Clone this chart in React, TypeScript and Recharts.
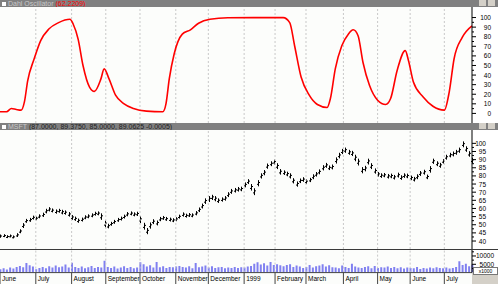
import { BarChart, Bar, LineChart, Line, XAxis, YAxis, ReferenceLine } from "recharts";

// trading-day index of each month start, June 1998 .. July 1999
const monthStarts = [0, 22, 44, 65, 86, 108, 128, 150, 169, 188, 211, 232, 252, 273];
const monthLabels = [
  "June", "July", "August", "September", "October", "November", "December",
  "1999", "February", "March", "April", "May", "June", "July",
];

// Dahl oscillator
const oscDays = [
  0, 4, 7, 10, 13, 15, 17, 21, 25, 30, 36, 43, 45, 48, 51, 55, 58, 62, 64, 67, 71, 76, 82, 90,
  100, 102, 104, 107, 112, 117, 122, 129, 140, 156, 174, 178, 181, 185, 190, 195, 201, 203, 206,
  210, 214, 217, 220, 223, 227, 232, 237, 240, 244, 249, 251, 254, 260, 266, 273, 276, 279, 284, 290,
];
const oscValues = [
  1.7, 1.7, 5.2, 4.1, 3.4, 12, 34, 57, 76, 88, 94.7, 98.2, 93, 77.5, 50, 27.5, 23, 36, 46.5, 36,
  19, 10.3, 5.2, 2.4, 1.7, 10.3, 36, 62, 82.7, 87.2, 94, 98.2, 99.8, 99.9, 99.9, 94.7, 70.6, 37.9,
  19, 9.3, 6.2, 15.5, 46.5, 70.6, 82.7, 87.2, 81, 53.4, 29.3, 13.8, 9.3, 15.5, 44.8, 65.5, 55,
  32.7, 17.2, 7.5, 3.4, 22.3, 57, 79.2, 91.3,
];

// MSFT price bars, one every 2 trading days
const priceLow = [
  42.0, 42.4, 41.8, 42.2, 41.6, 42.5, 44.8, 48.0, 51.2, 51.8, 53.2,
  52.8, 54.0, 54.8, 57.0, 58.2, 57.6, 56.8, 57.4, 56.4, 56.2, 55.0,
  53.0, 52.4, 51.2, 52.0, 53.4, 54.0, 54.6, 55.6, 55.8, 53.0, 48.4,
  47.8, 49.4, 50.6, 51.8, 52.6, 53.8, 55.2, 55.8, 55.2, 55.4, 51.0,
  47.0, 44.2, 47.6, 50.4, 49.6, 52.2, 53.0, 52.4, 52.0, 51.6, 52.2,
  53.8, 55.0, 54.4, 54.8, 54.6, 55.8, 57.8, 60.0, 62.8, 64.0,
  65.2, 64.4, 63.4, 64.2, 64.8, 67.0, 69.0, 69.8, 70.4, 70.6, 73.0,
  75.0, 71.0, 68.2, 73.6, 78.4, 80.4, 84.4, 86.0, 87.0, 84.2, 80.8,
  80.6, 79.8, 78.4, 75.4, 73.4, 75.6, 76.4, 75.0, 76.2, 78.0, 79.6,
  81.0, 83.4, 85.0, 83.6, 84.0, 87.6, 90.8, 93.4, 94.2, 93.0, 92.2,
  89.0, 86.4, 81.6, 82.8, 87.0, 84.2, 81.4, 79.6, 78.8, 79.2, 78.4,
  78.6, 77.8, 79.0, 77.6, 78.8, 78.6, 77.4, 76.6, 78.0, 80.0, 80.8,
  78.0, 82.0, 87.4, 86.0, 85.0, 87.6, 90.0, 91.4, 92.0, 93.0, 94.2,
  97.6, 94.8, 91.8, 87.8,
];
const priceHigh = [
  44.0, 44.2, 43.6, 44.0, 43.4, 44.8, 47.2, 51.0, 53.6, 54.2, 55.6,
  55.0, 56.4, 57.4, 59.8, 60.8, 60.0, 59.4, 59.8, 59.2, 58.8, 57.8,
  56.0, 55.0, 53.8, 54.4, 55.8, 56.4, 57.0, 58.0, 58.2, 57.0, 52.6,
  50.6, 51.8, 53.0, 54.2, 55.0, 56.2, 57.8, 58.2, 57.6, 58.0, 55.2,
  51.2, 48.0, 51.4, 53.4, 52.6, 54.8, 55.4, 54.8, 54.4, 54.0, 54.6,
  56.2, 57.6, 56.8, 57.2, 57.0, 58.4, 60.6, 63.0, 66.2, 67.6,
  68.4, 67.6, 66.2, 66.8, 67.6, 70.0, 72.0, 72.6, 73.2, 73.4, 76.0,
  78.0, 75.0, 72.4, 77.4, 81.6, 83.6, 87.6, 89.0, 90.0, 87.8, 84.2,
  83.4, 82.6, 81.6, 78.6, 76.6, 78.4, 79.2, 78.0, 78.8, 81.0, 82.4,
  84.0, 86.6, 88.0, 86.4, 87.0, 91.4, 94.2, 96.6, 97.4, 96.0, 95.4,
  93.0, 90.6, 85.4, 86.2, 90.6, 87.8, 84.6, 82.4, 81.6, 81.8, 81.2,
  81.4, 80.6, 82.0, 80.4, 81.6, 81.4, 80.2, 79.4, 81.0, 83.0, 83.8,
  80.8, 86.0, 90.6, 89.0, 88.0, 90.4, 93.0, 94.2, 95.0, 96.0, 97.4,
  101.2, 98.2, 95.2, 91.2,
];
// volume in thousands, same 2-day steps
const volume = [
  2.0, 2.6, 1.8, 3.0, 2.4, 3.4, 4.0, 3.2, 5.8, 4.4, 3.6,
  2.0, 2.8, 3.4, 2.6, 3.8, 3.0, 4.2, 3.2, 3.6, 4.8, 3.0,
  6.0, 3.4, 2.8, 3.6, 2.6, 3.2, 4.0, 2.8, 3.4, 3.0, 7.2,
  3.4, 2.8, 3.6, 2.4, 3.0, 3.8, 2.8, 3.4, 2.6, 3.0, 6.2,
  5.0, 3.6, 4.4, 3.0, 6.4, 3.2, 3.8, 2.8, 3.4, 3.2, 3.6,
  4.0, 3.4, 3.0, 3.8, 2.6, 5.8, 3.2, 3.6, 4.2, 3.0,
  3.8, 2.8, 3.2, 3.4, 2.6, 3.0, 2.8, 3.4, 2.8, 3.2, 3.0,
  3.6, 4.0, 5.4, 6.2, 4.8, 5.6, 4.2, 6.4, 4.6, 5.0, 4.4,
  3.8, 4.6, 5.0, 3.4, 4.2, 3.6, 2.8, 3.4, 4.6, 3.0, 3.8,
  4.2, 5.0, 3.6, 4.4, 3.2, 3.0, 2.6, 4.2, 3.4, 2.8, 5.4,
  3.6, 3.0, 2.8, 3.4, 3.8, 2.6, 4.0, 2.8, 3.2, 3.0, 3.6,
  2.8, 3.4, 2.6, 3.2, 2.4, 3.0, 2.8, 2.6, 3.4, 2.2, 2.8,
  2.4, 3.0, 2.6, 3.2, 2.8, 2.6, 3.0, 2.4, 2.8, 3.4, 6.8,
  4.6, 5.4, 3.8, 4.8,
];

const W = 498;
const AXIS_W = 26;
const FONT = "'Liberation Sans', Arial, sans-serif";
const oscData = oscDays.map((d, i) => ({ day: d, osc: oscValues[i] }));
const priceData = priceLow.map((lo, i) => ({ day: i * 2, range: [lo, priceHigh[i]], vol: volume[i] }));

function makeTick(step: number, right: number, fmt: (v: number) => string) {
  return (props: any) => {
    const { x, y, payload } = props;
    const v = payload.value;
    const major = Math.abs(v / step - Math.round(v / step)) < 1e-6;
    return (
      <g>
        <line x1={x} x2={x + (major ? 4 : 2)} y1={y} y2={y} stroke="#000" />
        {major && (
          <text x={x + right} y={y + 2.5} textAnchor="end" fontSize={6.5} fontFamily={FONT} fill="#000">
            {fmt(v)}
          </text>
        )}
      </g>
    );
  };
}

// high-low bar drawn as a thin stroke with small side ticks
function HLBar(props: any) {
  const { x, y, width, height } = props;
  const cx = Math.round(x + width / 2);
  return (
    <g fill="#000">
      <rect x={cx} y={y} width={1} height={Math.max(height, 1)} />
      <rect x={cx - 1} y={y + height * 0.6} width={1} height={1} />
      <rect x={cx + 1} y={y + height * 0.3} width={1} height={1} />
    </g>
  );
}

function MonthTick(props: any) {
  const { x, y, payload, index } = props;
  return (
    <g>
      <line x1={x} x2={x} y1={y} y2={y + 12} stroke="#444" />
      <text x={x + 2} y={y + 8.5} fontSize={6.5} fontFamily={FONT} fill="#000">
        {monthLabels[index] ?? payload.value}
      </text>
    </g>
  );
}

function TitleBar({ top, children }: { top: number; children: any }) {
  return (
    <div style={{ position: "absolute", left: 0, top, width: W, height: 7, background: "#808080", overflow: "hidden", fontFamily: FONT, fontSize: 7, lineHeight: "7px", whiteSpace: "nowrap" }}>
      <span style={{ display: "inline-block", width: 4, height: 4, background: "#fff", margin: "1px 2px 0 2px" }} />
      {children}
      <span style={{ position: "absolute", right: 12, top: 0, width: 7, height: 6, background: "#d4d0c8" }} />
      <span style={{ position: "absolute", right: 3, top: 0, width: 7, height: 6, background: "#d4d0c8" }} />
    </div>
  );
}

const gridLines = monthStarts.slice(1).map((d) => (
  <ReferenceLine key={d} x={d} stroke="#c8c8c8" strokeDasharray="2 2" />
));

export default function App() {
  return (
    <div style={{ position: "absolute", left: 0, top: 0, width: W, height: 284, background: "#fff", overflow: "hidden" }}>
      <div style={{ position: "absolute", left: 0, top: 0, width: W - AXIS_W, height: 284, background: "#fcfdfb" }} />
      <TitleBar top={0}>
        <span style={{ color: "#c8c8c8" }}>Dahl Oscillator </span>
        <span style={{ color: "#ff0000" }}>(62.2209)</span>
      </TitleBar>
      <div style={{ position: "absolute", left: 0, top: 7 }}>
        <LineChart width={W} height={116} data={oscData} margin={{ top: 0, right: 0, bottom: 0, left: 0 }}>
          <XAxis type="number" dataKey="day" domain={[0, 290]} hide />
          <YAxis
            orientation="right"
            width={AXIS_W}
            domain={[-10, 111]}
            allowDataOverflow
            ticks={[0, 5, 10, 15, 20, 25, 30, 35, 40, 45, 50, 55, 60, 65, 70, 75, 80, 85, 90, 95, 100]}
            interval={0}
            tickLine={false}
            tickSize={0}
            tickMargin={0}
            axisLine={{ stroke: "#000" }}
            tick={makeTick(10, 19, (v) => String(v))}
          />
          {gridLines}
          <Line type="monotone" dataKey="osc" stroke="#ff0000" strokeWidth={1.6} dot={false} isAnimationActive={false} />
        </LineChart>
      </div>
      <TitleBar top={123}>
        <span style={{ color: "#c8c8c8" }}>MSFT </span>
        <span style={{ color: "#202020" }}>(87.0000, 89.3750, 85.0000, 89.0625 -0.0005)</span>
      </TitleBar>
      <div style={{ position: "absolute", left: 0, top: 130 }}>
        <BarChart width={W} height={119} data={priceData} margin={{ top: 0, right: 0, bottom: 0, left: 0 }}>
          <XAxis type="number" dataKey="day" domain={[0, 290]} hide />
          <YAxis
            orientation="right"
            width={AXIS_W}
            domain={[35.1, 108.2]}
            allowDataOverflow
            ticks={[40, 42.5, 45, 47.5, 50, 52.5, 55, 57.5, 60, 62.5, 65, 67.5, 70, 72.5, 75, 77.5, 80, 82.5, 85, 87.5, 90, 92.5, 95, 97.5, 100]}
            interval={0}
            tickLine={false}
            tickSize={0}
            tickMargin={0}
            axisLine={{ stroke: "#000" }}
            tick={makeTick(5, 14, (v) => String(v))}
          />
          {gridLines}
          <Bar dataKey="range" fill="#000" barSize={2} shape={HLBar} isAnimationActive={false} />
        </BarChart>
      </div>
      <div style={{ position: "absolute", left: 0, top: 248.5, width: W, height: 1.5, background: "#3a3a3a" }} />
      <div style={{ position: "absolute", left: 0, top: 250 }}>
        <BarChart width={W} height={34} data={priceData} margin={{ top: 0, right: 0, bottom: 0, left: 0 }}>
          <XAxis
            type="number"
            dataKey="day"
            domain={[0, 290]}
            ticks={monthStarts}
            interval={0}
            height={11.4}
            tickLine={false}
            tickSize={0}
            tickMargin={0}
            axisLine={{ stroke: "#444" }}
            tick={MonthTick}
          />
          <YAxis
            orientation="right"
            width={AXIS_W}
            domain={[0, 13.6]}
            allowDataOverflow
            ticks={[2.5, 5, 7.5, 10, 12.5]}
            interval={0}
            tickLine={false}
            tickSize={0}
            tickMargin={0}
            axisLine={{ stroke: "#000" }}
            tick={makeTick(5, 22, (v) => String(v * 1000))}
          />
          {gridLines}
          <Bar dataKey="vol" fill="#8080f0" barSize={2} isAnimationActive={false} />
        </BarChart>
      </div>
      <div style={{ position: "absolute", left: 472, top: 273, width: 26, height: 11, background: "#d4d0c8" }} />
      <div style={{ position: "absolute", left: 473, top: 267, width: 23, height: 6, border: "1px solid #777", background: "#fff", fontFamily: FONT, fontSize: 5, lineHeight: "6px", textAlign: "center" }}>x1000</div>
    </div>
  );
}
